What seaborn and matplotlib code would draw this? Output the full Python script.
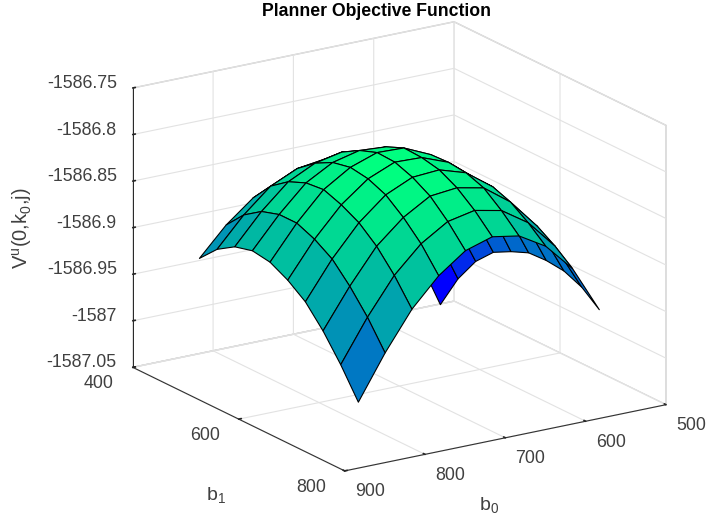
import numpy as np
import seaborn as sns
import matplotlib.pyplot as plt
from matplotlib.colors import Normalize
from mpl_toolkits.mplot3d import proj3d

b0 = [550.0, 583.3, 616.7, 650.0, 683.3, 716.7, 750.0, 783.3, 816.7, 850.0]
b1 = [450.0, 483.3, 516.7, 550.0, 583.3, 616.7, 650.0, 683.3, 716.7, 750.0]

# rows follow b1, columns follow b0
V = [
    [-1587.031, -1586.965, -1586.919, -1586.887, -1586.866, -1586.859, -1586.862, -1586.875, -1586.898, -1586.928],
    [-1586.994, -1586.932, -1586.889, -1586.860, -1586.842, -1586.836, -1586.840, -1586.853, -1586.878, -1586.909],
    [-1586.966, -1586.906, -1586.866, -1586.839, -1586.823, -1586.819, -1586.825, -1586.839, -1586.865, -1586.897],
    [-1586.947, -1586.888, -1586.849, -1586.824, -1586.810, -1586.808, -1586.815, -1586.831, -1586.859, -1586.892],
    [-1586.937, -1586.875, -1586.838, -1586.815, -1586.802, -1586.801, -1586.811, -1586.829, -1586.859, -1586.895],
    [-1586.929, -1586.871, -1586.837, -1586.814, -1586.803, -1586.802, -1586.814, -1586.836, -1586.867, -1586.905],
    [-1586.928, -1586.871, -1586.837, -1586.816, -1586.807, -1586.809, -1586.822, -1586.846, -1586.879, -1586.919],
    [-1586.930, -1586.876, -1586.844, -1586.823, -1586.817, -1586.820, -1586.837, -1586.862, -1586.899, -1586.941],
    [-1586.938, -1586.888, -1586.857, -1586.838, -1586.832, -1586.838, -1586.856, -1586.884, -1586.923, -1586.968],
    [-1586.953, -1586.903, -1586.873, -1586.856, -1586.851, -1586.860, -1586.881, -1586.911, -1586.952, -1586.999],
]

b0_ticks = [500, 600, 700, 800, 900]
b1_ticks = [400, 600, 800]
v_ticks = [-1587.05, -1587, -1586.95, -1586.9, -1586.85, -1586.8, -1586.75]
v_labels = ['-1587.05', '-1587', '-1586.95', '-1586.9', '-1586.85', '-1586.8', '-1586.75']

sns.set_theme(style='white')
plt.rcParams['font.family'] = ['Liberation Sans', 'DejaVu Sans']
plt.rcParams['mathtext.fontset'] = 'custom'
plt.rcParams['mathtext.rm'] = 'Liberation Sans'

X, Y = np.meshgrid(b0, b1)
Z = np.array(V)
cmap = sns.color_palette('winter', as_cmap=True)
colors = cmap(Normalize(Z.min(), Z.max())(Z))

fig = plt.figure(figsize=(7.07, 5.17), dpi=100)
ax = fig.add_axes([0.055, 0.01, 1, 1], projection='3d', proj_type='ortho')
ax.view_init(elev=18.5, azim=57)
ax.set_box_aspect((381, 387, 293), zoom=1.165)

ax.plot_surface(X, Y, Z, facecolors=colors, rstride=1, cstride=1, shade=False,
                edgecolor='black', linewidth=0.8, antialiased=True)

ax.set_xlim(500, 900)
ax.set_ylim(400, 800)
ax.set_zlim(-1587.05, -1586.75)
ax.set_xticks(b0_ticks)
ax.set_yticks(b1_ticks)
ax.set_zticks(v_ticks)
ax.set_xticklabels([])
ax.set_yticklabels([])
ax.set_zticklabels([])

for axis in (ax.xaxis, ax.yaxis, ax.zaxis):
    axis.set_pane_color((1, 1, 1, 1))
    axis.pane.set_edgecolor('#c8c8c8')
    axis.line.set_color('#262626')
    axis.line.set_linewidth(0.7)
    axis._axinfo['grid'].update(color='#e2e2e2', linewidth=0.8)
    axis._axinfo['tick'].update(inward_factor=0.0, outward_factor=0.1)
    axis.set_tick_params(color='#262626')
ax.zaxis.set_ticks_position('lower')


# tick labels sit at a fixed pixel offset from their tick
def tick_label(x, y, z, text, dx, dy, ha='center'):
    px, py, _ = proj3d.proj_transform(x, y, z, ax.get_proj())
    ax.annotate(text, xy=(px, py), xytext=(dx, dy), textcoords='offset pixels',
                ha=ha, va='center', fontsize=12.8, color='#404040', annotation_clip=False)


for t in b0_ticks:
    tick_label(t, 800, v_ticks[0], str(t), 25, -21)
for t in b1_ticks:
    tick_label(900, t, v_ticks[0], str(t), -34, -16.5)
for t, s in zip(v_ticks, v_labels):
    tick_label(900, 400, t, s, -16, 4.5, ha='right')

fig.text(489 / 707, 1 - 505 / 517, '$\\mathrm{b_0}$', ha='center', va='center', fontsize=14, color='#404040')
fig.text(216 / 707, 1 - 495 / 517, '$\\mathrm{b_1}$', ha='center', va='center', fontsize=14, color='#404040')
fig.text(22 / 707, 1 - 228 / 517, '$\\mathrm{V^u(0{,}k_0{,}j)}$', ha='center', va='center', rotation=90,
         fontsize=14.5, color='#404040')
fig.text(377 / 707, 1 - 11 / 517, 'Planner Objective Function', ha='center', va='center',
         fontsize=12.66, fontweight='bold', color='black')

fig.savefig('out.png', dpi=100)
